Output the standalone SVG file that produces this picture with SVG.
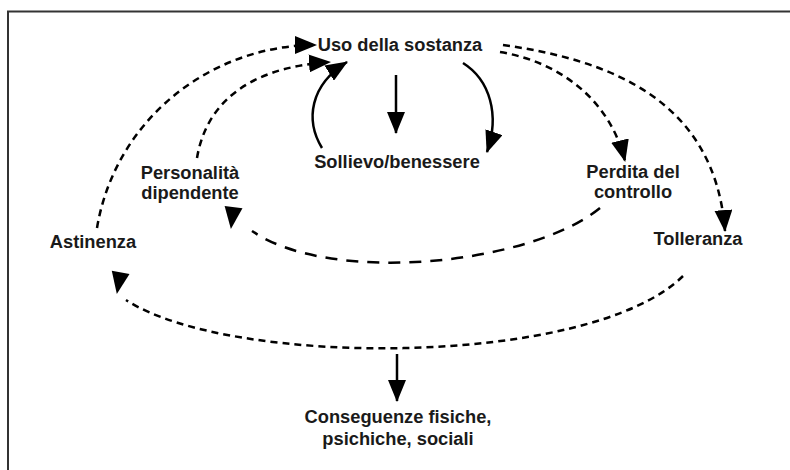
<svg xmlns="http://www.w3.org/2000/svg" xmlns:xlink="http://www.w3.org/1999/xlink" width="790" height="470" viewBox="0 0 790 470">
<style>
.t{font-family:"Liberation Sans",Arial,sans-serif;font-weight:bold;font-size:18.3px;fill:#1a1a1a;text-anchor:middle}
.s{fill:none;stroke:#000;stroke-width:2.5}
.d{fill:none;stroke:#000;stroke-width:2.5;stroke-dasharray:7 5}
.dl{fill:none;stroke:#000;stroke-width:2.5;stroke-dasharray:12 9}
</style>
<defs>
<marker id="ar" markerUnits="userSpaceOnUse" viewBox="0 0 22 18" markerWidth="22" markerHeight="18" refX="21" refY="9" orient="auto">
<path d="M0,0 L22,9 L0,18 z" fill="#000"/>
</marker>
<path id="ah" d="M-21,-9 L1,0 L-21,9 z" fill="#000"/>
</defs>
<rect x="8" y="11.5" width="800" height="480" fill="none" stroke="#333" stroke-width="2"/>
<g id="connectors">
<path class="d" d="M97,228 C115,120 210,45 316,45" marker-end="url(#ar)"/>
<path class="d" d="M197,158 C205,110 240,68 330,62" marker-end="url(#ar)"/>
<path class="s" d="M322,148 C305,120 310,85 347,62" marker-end="url(#ar)"/>
<path class="s" d="M396,75 L396,133" marker-end="url(#ar)"/>
<path class="s" d="M463,63 C490,80 500,115 487,152" marker-end="url(#ar)"/>
<path class="d" d="M500,52 C560,62 610,100 625,161" marker-end="url(#ar)"/>
<path class="d" d="M503,45 C610,60 715,100 725,231" marker-end="url(#ar)"/>
<path class="dl" d="M600,208 C530,265 330,285 252,231"/>
<use xlink:href="#ah" transform="translate(231,228) rotate(97)"/>
<path class="d" d="M683,276 C590,368 230,368 126,300"/>
<use xlink:href="#ah" transform="translate(117,293) rotate(100)"/>
<path class="s" d="M397,354 L397,401" marker-end="url(#ar)"/>
</g>
<g id="uso"><text class="t" x="400" y="51">Uso della sostanza</text></g>
<g id="sollievo"><text class="t" x="397" y="168">Sollievo/benessere</text></g>
<g id="personalita"><text class="t" x="190" y="179">Personalità</text><text class="t" x="190" y="199">dipendente</text></g>
<g id="astinenza"><text class="t" x="93" y="248">Astinenza</text></g>
<g id="perdita"><text class="t" x="633" y="178">Perdita del</text><text class="t" x="633" y="198">controllo</text></g>
<g id="tolleranza"><text class="t" x="698" y="245">Tolleranza</text></g>
<g id="conseguenze"><text class="t" x="398" y="423">Conseguenze fisiche,</text><text class="t" x="398" y="445">psichiche, sociali</text></g>
</svg>
